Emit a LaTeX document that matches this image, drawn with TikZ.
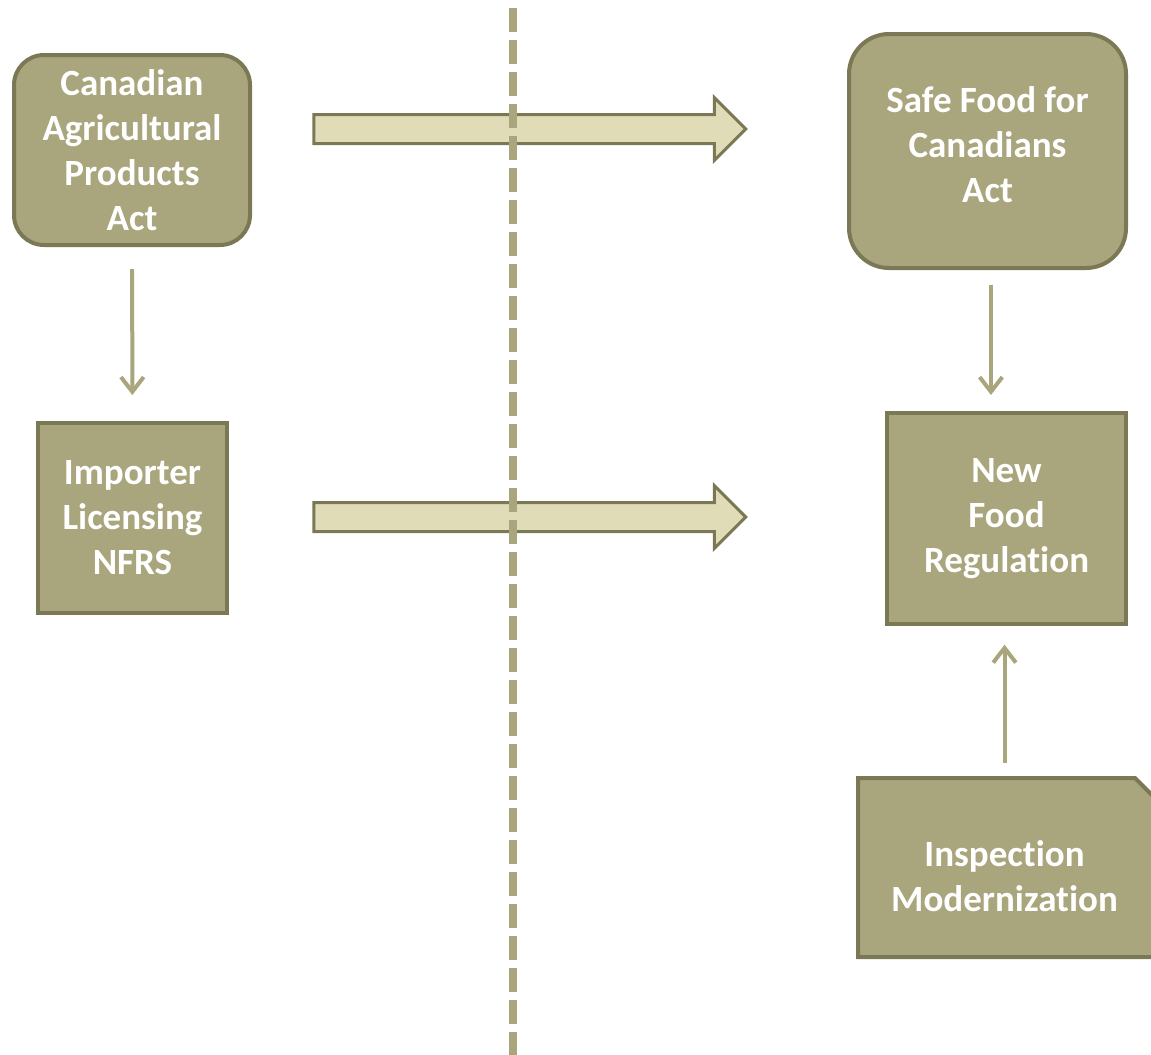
\documentclass[tikz,border=0pt]{standalone}
\usepackage{fontspec}
\setmainfont{Carlito}[Ligatures=NoCommon]
\usepackage{tikz}
\usetikzlibrary{arrows.meta, shapes.arrows, calc, backgrounds}
\definecolor{olivefill}{HTML}{A9A57C}
\definecolor{oliveline}{HTML}{7B7856}
\definecolor{paleolive}{HTML}{E0DCB8}
\tikzset{
  boxtext/.style={
    text=white, align=center,
    font=\fontsize{27.75}{33.75}\selectfont\bfseries
  },
  box/.style={
    rectangle, draw=oliveline, fill=olivefill, line width=3pt,
    inner sep=0pt, boxtext
  },
  roundbox/.style={box, rounded corners=#1},
  blockarrow/.style={
    single arrow, draw=oliveline, fill=paleolive, line width=2.25pt,
    single arrow head extend=12.75pt, inner sep=9.75pt,
    minimum height=324pt
  }
}

\begin{document}
\begin{tikzpicture}[x=0.75pt, y=-0.75pt,
  conn/.style={-{Straight Barb[length=11pt, width=17pt]}, line width=3pt, color=olivefill},
  divider/.style={line width=6pt, color=olivefill, dash pattern=on 18pt off 6pt}
]
\useasboundingbox (0,0) rectangle (1151,1054);

% left side
\node[roundbox=22.5pt, minimum width=177pt, minimum height=142.5pt] (cap) at (132,150)
  {Canadian\\Agricultural\\Products\\Act};
\node[box, minimum width=141.75pt, minimum height=142.5pt] (importer) at (132.5,518)
  {Importer\\Licensing\\NFRS};

% right side
\node[roundbox=30pt, minimum width=207.75pt, minimum height=175.5pt,
  label={[boxtext, yshift=4.5pt]center:Safe Food for\\Canadians\\Act}] (safe) at (987.5,151) {};
\node[box, minimum width=179.25pt, minimum height=158.25pt] (newfood) at (1006.5,518.5)
  {New\\Food\\Regulation};
\node[box, draw=none, fill=none, minimum width=219.75pt, minimum height=131.25pt,
  label={[boxtext, yshift=-6.75pt, xshift=-1.5pt]center:Inspection\\Modernization}] (inspect) at (1006.5,867.5) {};
\begin{scope}[on background layer]
  \draw[draw=oliveline, fill=olivefill, line width=3pt]
    (inspect.north west) -- ($(inspect.north east)+(-20,0)$)
    -- ($(inspect.north east)+(0,20)$) -- (inspect.south east)
    -- (inspect.south west) -- cycle;
\end{scope}

% transitions
\node[blockarrow] (toparrow) at (522.5,129) {};
\node[blockarrow] (lowarrow) at (522.5,517) {};

\draw[conn, shorten <=16.5pt, shorten >=19.5pt] (cap) -- (importer);
\draw[conn, shorten <=11pt, shorten >=12pt] ([xshift=2.6pt]safe.south) -- ([xshift=2.6pt]safe.south |- newfood.north);
\draw[conn, shorten <=11pt, shorten >=14pt] ([xshift=-1.5pt]inspect.north) -- ([xshift=-1.5pt]inspect.north |- newfood.south);

% divider
\coordinate (divtop) at (513,8);
\coordinate (divbottom) at (513,1060);
\draw[divider] (divtop) -- (divbottom);

\end{tikzpicture}
\end{document}
